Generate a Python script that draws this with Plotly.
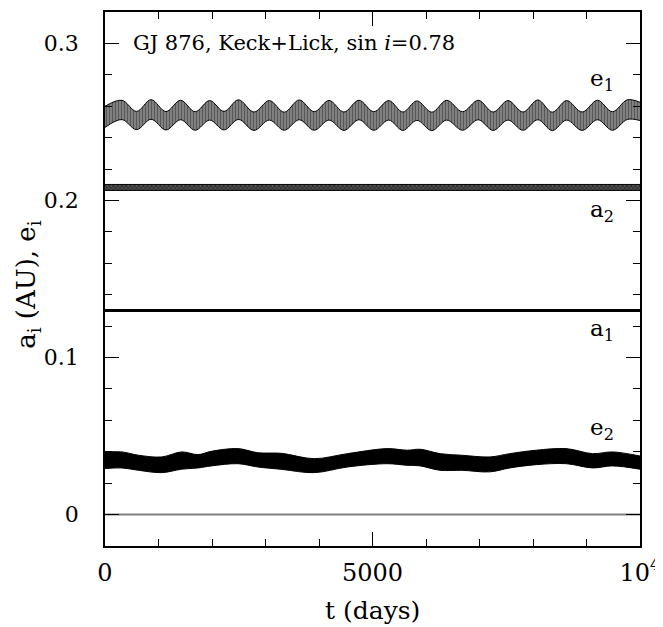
import plotly.graph_objects as go

# ---- data ----
t_e1 = [0, 316, 590, 861, 1140, 1413, 1685, 1957, 2225, 2496, 2785, 3072, 3350,
        3631, 3910, 4188, 4467, 4746, 5025, 5303, 5567, 5830, 6110, 6388, 6683,
        6977, 7255, 7533, 7812, 8091, 8360, 8630, 8918, 9206, 9485, 9764, 10000]
e1_hi = [0.2600, 0.2638, 0.2567, 0.2642, 0.2566, 0.2638, 0.2565, 0.2636, 0.2567,
         0.2641, 0.2563, 0.2636, 0.2562, 0.2640, 0.2565, 0.2637, 0.2563, 0.2638,
         0.2565, 0.2636, 0.2563, 0.2634, 0.2562, 0.2638, 0.2565, 0.2638, 0.2563,
         0.2636, 0.2563, 0.2640, 0.2562, 0.2636, 0.2563, 0.2638, 0.2565, 0.2641, 0.2625]
e1_lo = [0.2465, 0.2515, 0.2451, 0.2517, 0.2449, 0.2514, 0.2447, 0.2512, 0.2449,
         0.2516, 0.2446, 0.2512, 0.2447, 0.2514, 0.2447, 0.2512, 0.2446, 0.2514,
         0.2447, 0.2512, 0.2446, 0.2510, 0.2445, 0.2512, 0.2447, 0.2514, 0.2446,
         0.2512, 0.2447, 0.2514, 0.2445, 0.2512, 0.2446, 0.2514, 0.2447, 0.2516, 0.2509]

t_e2 = [0, 316, 626, 1059, 1431, 1741, 1989, 2485, 2857, 3300, 3909, 4530, 5273,
        5645, 5892, 6264, 6667, 7193, 7565, 8061, 8619, 9113, 9485, 10000]
e2_hi = [0.0399, 0.0399, 0.0378, 0.0367, 0.0399, 0.0382, 0.0403, 0.0420, 0.0394,
         0.0390, 0.0356, 0.0388, 0.0420, 0.0410, 0.0416, 0.0388, 0.0378, 0.0367,
         0.0388, 0.0410, 0.0420, 0.0388, 0.0399, 0.0373]
e2_lo = [0.0293, 0.0297, 0.0282, 0.0267, 0.0289, 0.0297, 0.0310, 0.0324, 0.0303,
         0.0288, 0.0267, 0.0303, 0.0324, 0.0314, 0.0310, 0.0282, 0.0282, 0.0272,
         0.0297, 0.0318, 0.0324, 0.0297, 0.0310, 0.0289]

t_a = [0, 2500, 5000, 7500, 10000]
a2_hi = [0.2102, 0.2102, 0.2102, 0.2102, 0.2102]
a2_lo = [0.2064, 0.2064, 0.2064, 0.2064, 0.2064]
a1 = [0.1300, 0.1300, 0.1300, 0.1300, 0.1300]

t_zero = [0, 10000]
zero_line = [0.0, 0.0]

x_tickvals = [0, 5000, 10000]
x_ticktext = ["0", "5000", "10<sup>4</sup>"]
y_tickvals = [0, 0.1, 0.2, 0.3]
y_ticktext = ["0", "0.1", "0.2", "0.3"]

labels = ["e<sub>1</sub>", "a<sub>2</sub>", "a<sub>1</sub>", "e<sub>2</sub>"]
label_y = [0.2765, 0.1936, 0.1175, 0.0542]

FONT = "DejaVu Serif"

fig = go.Figure()

# zero line
fig.add_trace(go.Scatter(x=t_zero, y=zero_line, mode="lines",
                         line=dict(color="#808080", width=2), hoverinfo="skip"))

# e1 band
fig.add_trace(go.Scatter(x=t_e1, y=e1_lo, mode="lines",
                         line=dict(color="black", width=1, shape="spline", smoothing=1.0)))
fig.add_trace(go.Scatter(x=t_e1, y=e1_hi, mode="lines", fill="tonexty",
                         line=dict(color="black", width=1, shape="spline", smoothing=1.0),
                         fillcolor="rgba(0,0,0,0)",
                         fillpattern=dict(shape="|", fgcolor="black", bgcolor="#b0b0b0",
                                          size=3, solidity=0.7)))

# a2 band
fig.add_trace(go.Scatter(x=t_a, y=a2_lo, mode="lines", line=dict(color="black", width=1)))
fig.add_trace(go.Scatter(x=t_a, y=a2_hi, mode="lines", fill="tonexty",
                         line=dict(color="black", width=1),
                         fillpattern=dict(shape="x", fgcolor="black", bgcolor="#5a5a5a",
                                          size=3, solidity=0.6)))

# a1 line
fig.add_trace(go.Scatter(x=t_a, y=a1, mode="lines", line=dict(color="black", width=3)))

# e2 band
fig.add_trace(go.Scatter(x=t_e2, y=e2_lo, mode="lines",
                         line=dict(color="black", width=1, shape="spline", smoothing=1.0)))
fig.add_trace(go.Scatter(x=t_e2, y=e2_hi, mode="lines", fill="tonexty",
                         line=dict(color="black", width=1, shape="spline", smoothing=1.0),
                         fillcolor="black"))

for txt, yv in zip(labels, label_y):
    fig.add_annotation(x=9030, y=yv, text=txt, showarrow=False, xanchor="left",
                       yanchor="middle", font=dict(family=FONT, size=23, color="black"))

fig.add_annotation(x=480, y=0.3, text="GJ 876, Keck+Lick, sin <i>i</i>=0.78",
                   showarrow=False, xanchor="left", yanchor="middle",
                   font=dict(family=FONT, size=21, color="black"))

# axis titles
fig.add_annotation(xref="paper", yref="paper", x=0.5, y=-0.12, text="t (days)",
                   showarrow=False, xanchor="center", yanchor="middle",
                   font=dict(family=FONT, size=25, color="black"))
fig.add_annotation(xref="paper", yref="paper", x=-0.145, y=0.49,
                   text="a<sub>i</sub> (AU), e<sub>i</sub>", textangle=-90,
                   showarrow=False, xanchor="center", yanchor="middle",
                   font=dict(family=FONT, size=26, color="black"))

axis_common = dict(showgrid=False, zeroline=False, showline=True, linecolor="black",
                   linewidth=1.5, mirror="allticks", ticks="inside", ticklen=14,
                   tickwidth=1, tickcolor="black", automargin=False)

fig.update_xaxes(range=[0, 10000], tickvals=x_tickvals, ticktext=x_ticktext,
                 minor=dict(dtick=1000, ticks="inside", ticklen=7, tickcolor="black", tickwidth=1),
                 tickfont=dict(family=FONT, size=24, color="black"),
                 ticklabelstandoff=4, **axis_common)
fig.update_yaxes(range=[-0.02, 0.32], tickvals=y_tickvals, ticktext=y_ticktext,
                 minor=dict(dtick=0.02, ticks="inside", ticklen=7, tickcolor="black", tickwidth=1),
                 tickfont=dict(family=FONT, size=22, color="black"),
                 ticklabelstandoff=20, **axis_common)

fig.update_layout(width=663, height=627, showlegend=False,
                  plot_bgcolor="white", paper_bgcolor="white",
                  margin=dict(l=97, r=31, t=4, b=89))

fig.write_html("out.html")
